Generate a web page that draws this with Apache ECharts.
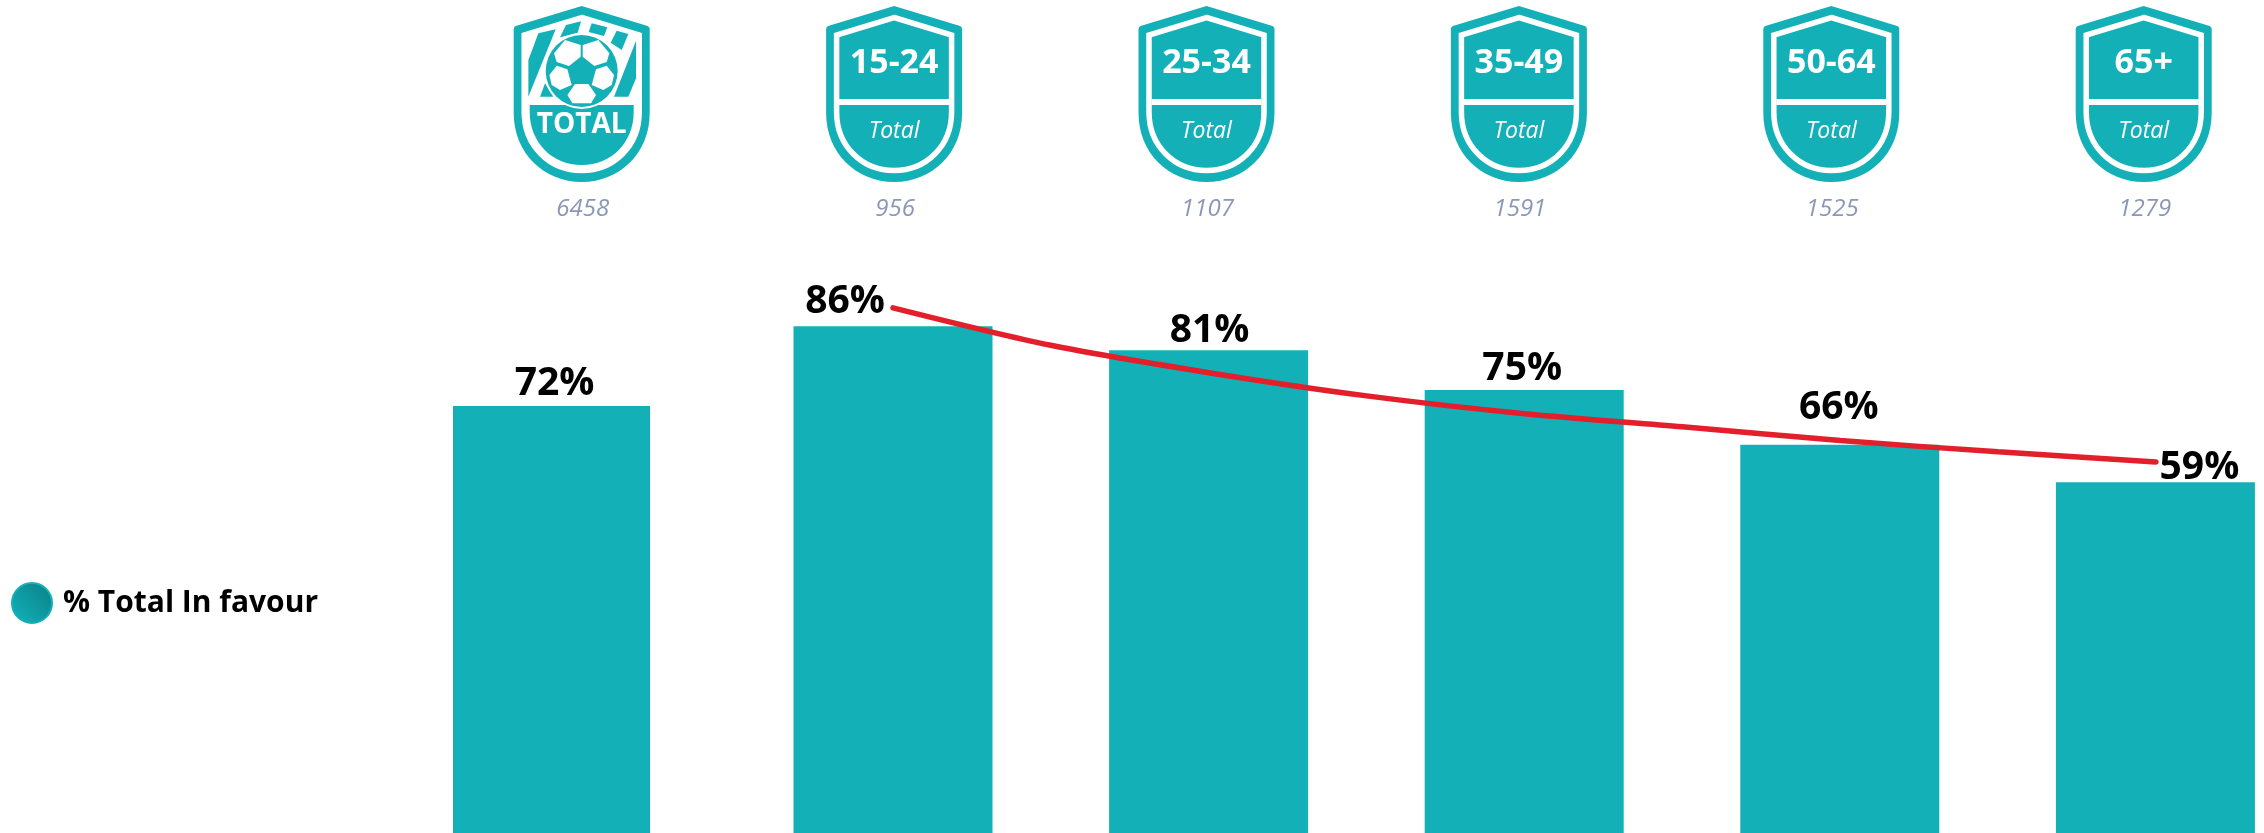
<!DOCTYPE html>
<html>
<head>
<meta charset="utf-8">
<style>html,body{margin:0;padding:0;background:#fff}#c{width:2264px;height:833px}</style>
<script src="https://cdn.jsdelivr.net/npm/echarts@6/dist/echarts.min.js"></script>
</head>
<body>
<div id="c"></div>
<script>
// ---- data ----
const seriesName = '% Total In favour';
const badgeTitles = ['TOTAL', '15-24', '25-34', '35-49', '50-64', '65+'];
const sampleSizes = [6458, 956, 1107, 1591, 1525, 1279];
const totalCategory = ['Total'];
const totalValues = [72.1];
const ageCategories = ['15-24', '25-34', '35-49', '50-64', '65+'];
const ageValues = [85.5, 81.45, 74.8, 65.6, 59.3];
// trend line, read at each age group and half way between neighbours
const trendStops = ['15-24', '', '25-34', ' ', '35-49', '  ', '50-64', '   ', '65+'];
const trendValues = [88.6, 82.3, 77.7, 73.8, 70.8, 68.6, 66.3, 64.4, 62.7];

// ---- style ----
const TEAL = '#14B0B8', FONT = '"Open Sans","Noto Sans",sans-serif';
const totalNudge = [[3, -3]];
const ageNudges = [[-48, -5], [1, 0], [-2, -2], [-1, -17], [44, 5]];

const OUTER = 'M0 6 L66 26 Q68 27 68 29 L68 113 C68 153 38 182 0 182 C-38 182 -68 153 -68 113 L-68 29 Q-68 27 -66 26 Z';
const INNER = 'M0 17.5 L57.5 35 L57.5 112 C57.5 146 32 170.5 0 170.5 C-32 170.5 -57.5 146 -57.5 112 L-57.5 35 Z';
const LOWER = 'M-52 105 L52 105 L52 112 C52 142 30 165 0 165 C-30 165 -52 142 -52 112 Z';

function z(pts){ // picture-space sketch points of the football crest, relative to crest centre
  return pts.map(p => [(p[0] - 215) / 3, p[1] / 3]);
}
const STRIPES = [
  [[85,100],[137,88],[55,290],[55,180]],
  [[168,75],[213,64],[203,98],[150,112]],
  [[245,70],[292,82],[282,108],[236,96]],
  [[320,92],[355,102],[335,150],[302,128]],
  [[378,122],[378,235],[355,290],[312,290]],
  [[105,250],[130,290],[90,290]]
];
const PATCHES = [
  [[165,120],[212,135],[212,170],[177,198],[140,186],[132,160]],
  [[265,120],[218,135],[218,170],[253,198],[290,186],[298,160]],
  [[118,225],[140,197],[172,208],[185,255],[150,270],[125,255]],
  [[312,225],[290,197],[258,208],[245,255],[280,270],[305,255]],
  [[172,285],[195,252],[235,252],[258,285],[243,310],[187,310]]
];

function shield(cx, title, n, i) {
  const kids = [
    {type:'path', shape:{pathData:OUTER}, style:{fill:TEAL}},
    {type:'path', shape:{pathData:INNER}, style:{fill:i === 0 ? '#fff' : TEAL, stroke:'#fff', lineWidth:5.5}},
    {type:'path', shape:{pathData:LOWER}, style:{fill:TEAL}},
    {type:'rect', shape:{x:-55, y:99, width:110, height:6}, style:{fill:'#fff'}}
  ];
  if (i === 0) {
    STRIPES.forEach(s => kids.push({type:'polygon', shape:{points:z(s)}, style:{fill:TEAL}}));
    kids.push({type:'circle', shape:{cx:0, cy:71, r:38}, style:{fill:'#fff'}});
    kids.push({type:'circle', shape:{cx:0, cy:71, r:36}, style:{fill:TEAL}});
    PATCHES.forEach(s => kids.push({type:'polygon', shape:{points:z(s)}, style:{fill:'#fff'}}));
    kids.push({type:'text', style:{text:title, x:0, y:125, fill:'#fff', align:'center', verticalAlign:'middle',
      font:'bold 28px ' + FONT}});
  } else {
    kids.push({type:'text', style:{text:title, x:0, y:63, fill:'#fff', align:'center', verticalAlign:'middle',
      font:'bold 34px ' + FONT}});
    kids.push({type:'text', style:{text:'Total', x:0, y:131, fill:'#fff', align:'center', verticalAlign:'middle',
      font:'italic 23px ' + FONT}});
  }
  kids.push({type:'text', style:{text:String(n), x:1, y:209, fill:'#8B98B5', align:'center', verticalAlign:'middle',
    font:'italic 24px ' + FONT}});
  return {type:'group', x:cx, y:0, children:kids};
}

const barLabel = {
  show:true, position:'top', distance:0, color:'#000', fontFamily:FONT, fontWeight:'bold', fontSize:39,
  formatter: p => Math.round(p.value) + '%'
};

const chart = echarts.init(document.getElementById('c'), null, {renderer:'canvas'});
chart.setOption({
  animation:false,
  backgroundColor:'#fff',
  legend:{
    show:true, left:11, top:582, padding:0, itemWidth:40, itemHeight:40, selectedMode:false,
    data:[{
      name:seriesName, icon:'circle',
      itemStyle:{
        color:new echarts.graphic.LinearGradient(1, 0, 0, 1, [
          {offset:0, color:'#087F84'}, {offset:1, color:'#14B4BC'}
        ]),
        borderColor:TEAL, borderWidth:2
      }
    }],
    textStyle:{color:'#000', fontFamily:FONT, fontWeight:'bold', fontSize:30, padding:[2,0,0,6]}
  },
  grid:[
    {left:353, width:397, top:2, height:833, outerBoundsMode:'none'},
    {left:735.2, width:1578, top:2, height:833, outerBoundsMode:'none'},
    {left:425.5, width:1874.4, top:0, height:220, outerBoundsMode:'none'},
    {left:893, width:1263, top:2, height:833, outerBoundsMode:'none'}
  ],
  xAxis:[
    {gridIndex:0, type:'category', data:totalCategory, show:false},
    {gridIndex:1, type:'category', data:ageCategories, show:false},
    {gridIndex:2, type:'category', data:badgeTitles, show:false},
    {gridIndex:3, type:'category', data:trendStops, boundaryGap:false, show:false}
  ],
  yAxis:[
    {gridIndex:0, type:'value', min:0, max:140, show:false},
    {gridIndex:1, type:'value', min:0, max:140, show:false},
    {gridIndex:2, type:'value', min:0, max:1, show:false},
    {gridIndex:3, type:'value', min:0, max:140, show:false}
  ],
  series:[
    {
      name:seriesName, type:'bar', xAxisIndex:0, yAxisIndex:0, barWidth:197,
      itemStyle:{color:TEAL}, label:barLabel,
      data:totalValues.map((v, i) => ({value:v, label:{offset:totalNudge[i]}}))
    },
    {
      name:seriesName, type:'bar', xAxisIndex:1, yAxisIndex:1, barWidth:199,
      itemStyle:{color:TEAL}, label:barLabel,
      data:ageValues.map((v, i) => ({value:v, label:{offset:ageNudges[i]}}))
    },
    {
      name:'Trend', type:'line', xAxisIndex:3, yAxisIndex:3, data:trendValues, smooth:0.3, clip:false,
      showSymbol:false, symbol:'none', z:3,
      lineStyle:{color:'#E31F2B', width:5.5, cap:'round'}
    },
    {
      name:'Sample', type:'custom', xAxisIndex:2, yAxisIndex:2, clip:false,
      data:sampleSizes.map((n, i) => [i, n]),
      renderItem:(params, api) => {
        const i = api.value(0);
        const cx = api.coord([i, 0])[0];
        return shield(cx, badgeTitles[i], api.value(1), i);
      }
    }
  ]
});
</script>
</body>
</html>
